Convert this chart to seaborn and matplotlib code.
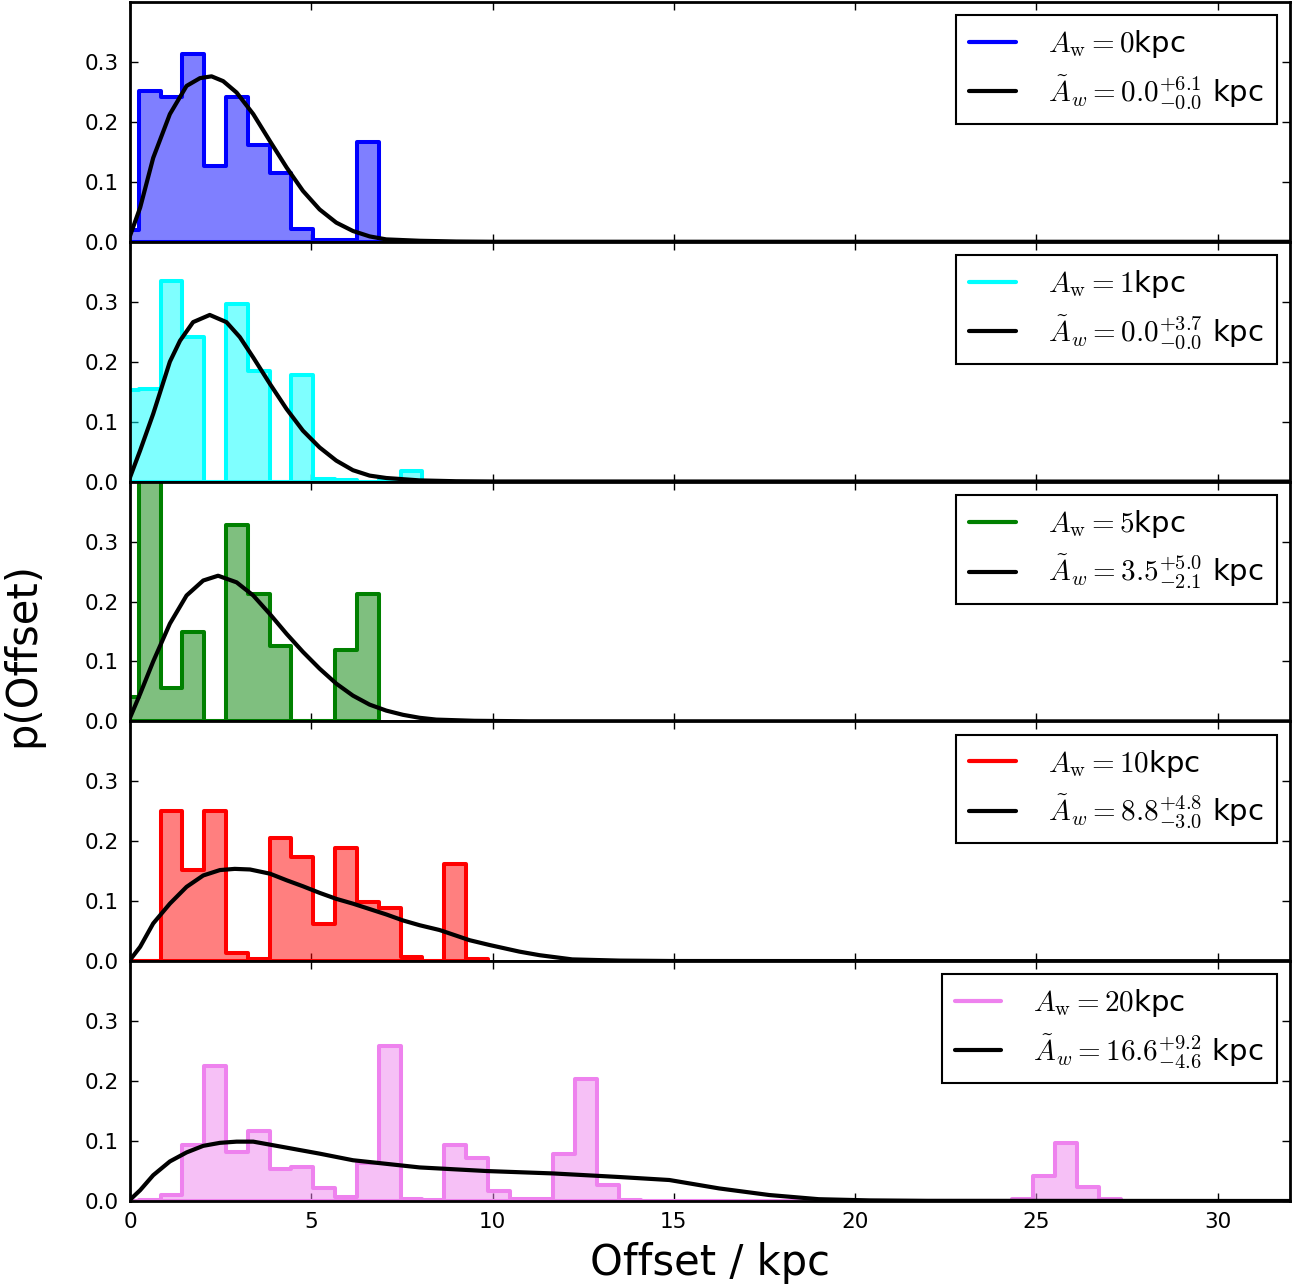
import numpy as np
import pandas as pd
import matplotlib
matplotlib.use("Agg")
import matplotlib.pyplot as plt
import seaborn as sns
from matplotlib.lines import Line2D

# ---------------- data ----------------
bin_start = -0.362
bin_width = 0.602

hist_0kpc = [0.02, 0.252, 0.242, 0.314, 0.126, 0.241, 0.162, 0.114, 0.021, 0.003, 0.003, 0.166, 0.003]
hist_1kpc = [0.152, 0.154, 0.335, 0.242, 0.0, 0.297, 0.184, 0.0, 0.178, 0.005, 0.002, 0.0, 0.002, 0.018]
hist_5kpc = [0.04, 0.42, 0.056, 0.149, 0.0, 0.327, 0.213, 0.126, 0.0, 0.0, 0.119, 0.212]
hist_10kpc = [0.0, 0.0, 0.251, 0.152, 0.251, 0.014, 0.004, 0.206, 0.173, 0.062, 0.189, 0.099,
              0.088, 0.007, 0.001, 0.162, 0.004]
hist_20kpc = [0.0, 0.001, 0.01, 0.093, 0.225, 0.082, 0.117, 0.054, 0.056, 0.021, 0.007, 0.063,
              0.259, 0.003, 0.001, 0.093, 0.071, 0.017, 0.003, 0.004, 0.079, 0.203, 0.027,
              0.001, 0.0, 0.0, 0.0, 0.0, 0.0, 0.0, 0.0, 0.0, 0.0, 0.0, 0.0, 0.0, 0.0, 0.0,
              0.0, 0.0, 0.0, 0.003, 0.042, 0.096, 0.024, 0.003]

curve_0kpc_x = [0, 0.28, 0.64, 1.10, 1.56, 1.93, 2.25, 2.57, 2.94, 3.40, 3.86, 4.32, 4.77,
                5.23, 5.69, 6.15, 6.61, 7.07, 8.0, 9.0, 10.0, 32.0]
curve_0kpc_y = [0.01, 0.057, 0.14, 0.213, 0.26, 0.273, 0.276, 0.268, 0.249, 0.213, 0.168,
                0.124, 0.085, 0.054, 0.032, 0.018, 0.009, 0.004, 0.0017, 0.0005, 0.0001, 0.0]

curve_1kpc_x = [0, 0.28, 0.64, 1.10, 1.38, 1.74, 2.20, 2.66, 3.03, 3.40, 3.86, 4.32, 4.77,
                5.23, 5.69, 6.15, 6.61, 7.07, 7.99, 9.0, 10.0, 32.0]
curve_1kpc_y = [0.007, 0.052, 0.113, 0.2, 0.235, 0.266, 0.278, 0.266, 0.241, 0.207, 0.163,
                0.121, 0.085, 0.057, 0.035, 0.019, 0.01, 0.006, 0.002, 0.0006, 0.0002, 0.0]

curve_5kpc_x = [0, 0.28, 0.64, 1.10, 1.56, 2.02, 2.43, 2.94, 3.40, 3.86, 4.32, 4.77, 5.23,
                5.69, 6.15, 6.61, 7.07, 7.53, 7.99, 8.45, 9.5, 11.0, 32.0]
curve_5kpc_y = [0.006, 0.046, 0.10, 0.163, 0.21, 0.235, 0.243, 0.232, 0.21, 0.179, 0.146,
                0.116, 0.088, 0.063, 0.043, 0.028, 0.018, 0.011, 0.006, 0.003, 0.001, 0.0002, 0.0]

curve_10kpc_x = [0, 0.28, 0.64, 1.10, 1.56, 2.02, 2.48, 2.89, 3.31, 3.86, 4.32, 4.77, 5.23,
                 5.69, 6.15, 6.61, 7.07, 7.53, 7.99, 8.54, 9.37, 9.92, 10.74, 11.3, 12.2,
                 13.5, 15.0, 32.0]
curve_10kpc_y = [0.002, 0.024, 0.063, 0.096, 0.124, 0.143, 0.152, 0.154, 0.153, 0.146, 0.135,
                 0.125, 0.114, 0.104, 0.096, 0.087, 0.078, 0.068, 0.06, 0.052, 0.035, 0.027,
                 0.016, 0.01, 0.003, 0.001, 0.0003, 0.0]

curve_20kpc_x = [0, 0.28, 0.64, 1.10, 1.56, 2.02, 2.48, 2.94, 3.40, 3.86, 4.32, 5.23, 6.15,
                 7.07, 7.99, 8.91, 9.83, 10.74, 11.66, 12.58, 13.5, 14.88, 16.25, 17.63,
                 19.0, 20.4, 22.0, 32.0]
curve_20kpc_y = [0.002, 0.018, 0.043, 0.066, 0.081, 0.092, 0.097, 0.099, 0.099, 0.094, 0.089,
                 0.079, 0.068, 0.062, 0.056, 0.053, 0.05, 0.048, 0.046, 0.043, 0.04, 0.035,
                 0.021, 0.01, 0.003, 0.001, 0.0003, 0.0]

colors = ["blue", "cyan", "green", "red", "violet"]
true_labels = [r"$A_{\rm w}=0$kpc", r"$A_{\rm w}=1$kpc", r"$A_{\rm w}=5$kpc",
               r"$A_{\rm w}=10$kpc", r"$A_{\rm w}=20$kpc"]
fit_labels = [r"$\tilde{A}_w=0.0^{+6.1}_{-0.0}$ kpc",
              r"$\tilde{A}_w=0.0^{+3.7}_{-0.0}$ kpc",
              r"$\tilde{A}_w=3.5^{+5.0}_{-2.1}$ kpc",
              r"$\tilde{A}_w=8.8^{+4.8}_{-3.0}$ kpc",
              r"$\tilde{A}_w=16.6^{+9.2}_{-4.6}$ kpc"]
y_ticks = [0.0, 0.1, 0.2, 0.3]
x_ticks = [0, 5, 10, 15, 20, 25, 30]

hists = [hist_0kpc, hist_1kpc, hist_5kpc, hist_10kpc, hist_20kpc]
curves_x = [curve_0kpc_x, curve_1kpc_x, curve_5kpc_x, curve_10kpc_x, curve_20kpc_x]
curves_y = [curve_0kpc_y, curve_1kpc_y, curve_5kpc_y, curve_10kpc_y, curve_20kpc_y]

# ---------------- style ----------------
sns.set_style("ticks")
plt.rcParams.update({
    "font.family": ["DejaVu Sans"],
    "mathtext.fontset": "cm",
    "text.color": "black",
    "axes.labelcolor": "black",
    "axes.edgecolor": "black",
    "axes.linewidth": 2.0,
    "xtick.color": "black",
    "ytick.color": "black",
    "xtick.direction": "in",
    "ytick.direction": "in",
    "xtick.top": True,
    "ytick.right": True,
    "xtick.major.size": 5.5,
    "ytick.major.size": 5.5,
    "xtick.major.width": 1.0,
    "ytick.major.width": 1.0,
    "xtick.major.pad": 8,
    "ytick.major.pad": 8,
    "xtick.labelsize": 15.5,
    "ytick.labelsize": 15.5,
    "lines.solid_joinstyle": "round",
})

fig, axes = plt.subplots(5, 1, sharex=True, figsize=(12.94, 12.86), dpi=100)
fig.subplots_adjust(left=130 / 1294, right=1290 / 1294, top=1 - 2 / 1286,
                    bottom=1 - 1201 / 1286, hspace=0)

for ax, h, cx, cy, c, tl, fl in zip(axes, hists, curves_x, curves_y, colors,
                                     true_labels, fit_labels):
    edges = (bin_start + bin_width * np.arange(len(h) + 1)).tolist()
    centers = [0.5 * (a + b) for a, b in zip(edges[:-1], edges[1:])]
    df = pd.DataFrame({"offset": centers, "p": h})
    sns.histplot(data=df, x="offset", weights="p", bins=edges, stat="count",
                 element="step", fill=True, color=c, alpha=0.5, linewidth=2.9, ax=ax)
    sns.lineplot(x=cx, y=cy, color="black", linewidth=3.0, ax=ax)
    ax.set_xlim(0, 32)
    ax.set_ylim(0, 0.4)
    ax.set_yticks(y_ticks)
    ax.set_xticks(x_ticks)
    ax.set_ylabel("")
    ax.set_xlabel("")
    handles = [Line2D([], [], color=c, lw=3), Line2D([], [], color="black", lw=3)]
    leg = ax.legend(handles, [tl, fl], loc="upper right", fontsize=21, fancybox=False,
                    framealpha=1, edgecolor="black", handlelength=1.6,
                    handletextpad=1.1, labelspacing=0.45, borderpad=0.45,
                    borderaxespad=0.45)
    leg.get_frame().set_linewidth(1.5)
    for side in ["top", "right"]:
        ax.spines[side].set_visible(True)

axes[-1].set_xlabel("Offset / kpc", fontsize=30, labelpad=7)
fig.text(0.017, 0.4907, "p(Offset)", rotation=90, fontsize=30, ha="center", va="center")

fig.savefig("out.png", dpi=100)
